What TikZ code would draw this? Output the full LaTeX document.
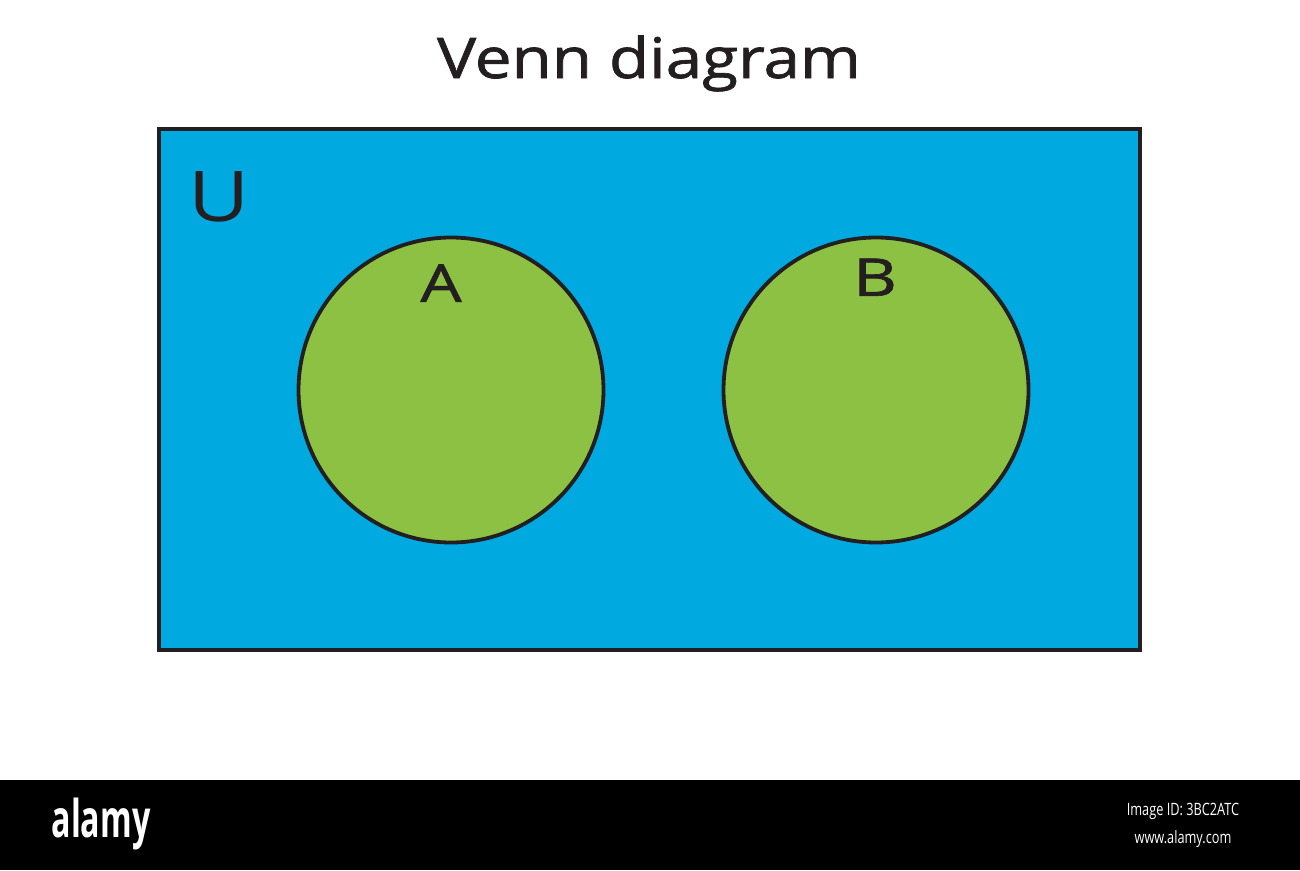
\documentclass[tikz,border=0pt]{standalone}
\usepackage{fontspec}
\setmainfont{Open Sans}
\newfontfamily\venfont[FakeBold=1.2]{Open Sans}
\usepackage{graphicx}
\usetikzlibrary{positioning}
\definecolor{venblue}{RGB}{0,169,224}
\definecolor{vengreen}{RGB}{141,193,67}
\definecolor{veninkk}{RGB}{35,31,32}

\begin{document}
\begin{tikzpicture}[
  x=1pt, y=-1pt,
  every node/.style={inner sep=0pt, text=veninkk},
  setbox/.style={circle, draw=veninkk, line width=3.8pt, fill=vengreen, minimum size=305pt},
  setlabel/.style={font=\venfont\fontsize{52}{52}\selectfont},
  footnote/.style={text=white, font=\fontsize{17}{17}\selectfont}
]
\useasboundingbox (0,0) rectangle (1300,870);
\fill[white] (0,0) rectangle (1300,780);

\node[font=\venfont\fontsize{56}{56}\selectfont, anchor=base] (title) at (649,78) {\scalebox{1.17}[1]{Venn diagram}};

% universe
\draw[fill=venblue, draw=veninkk, line width=3.5pt] (159,129) rectangle (1140,650);
\node[font=\fontsize{70}{70}\selectfont, anchor=south] (u) at (219,222) {\scalebox{1.2}[1]{U}};

% the two sets
\node[setbox] (seta) at (451,390) {};
\node[setbox] (setb) at (876,390) {};
\node[setlabel, anchor=south] (la) at (441,302) {\scalebox{1.25}[1]{A}};
\node[setlabel, anchor=south] (lb) at (875,296) {\scalebox{1.3}[1]{B}};

% bottom strip
\fill[black] (0,780) rectangle (1300,870);
\node[text=white, font=\bfseries\fontsize{52}{52}\selectfont] (brand) at (101,824) {\scalebox{0.62}[1]{alamy}};
\node[footnote] (imgid) at (1183,811) {\scalebox{0.75}[1]{Image ID: 3BC2ATC}};
\node[footnote, below=11pt of imgid] (web) {\scalebox{0.75}[1]{www.alamy.com}};
\end{tikzpicture}
\end{document}
